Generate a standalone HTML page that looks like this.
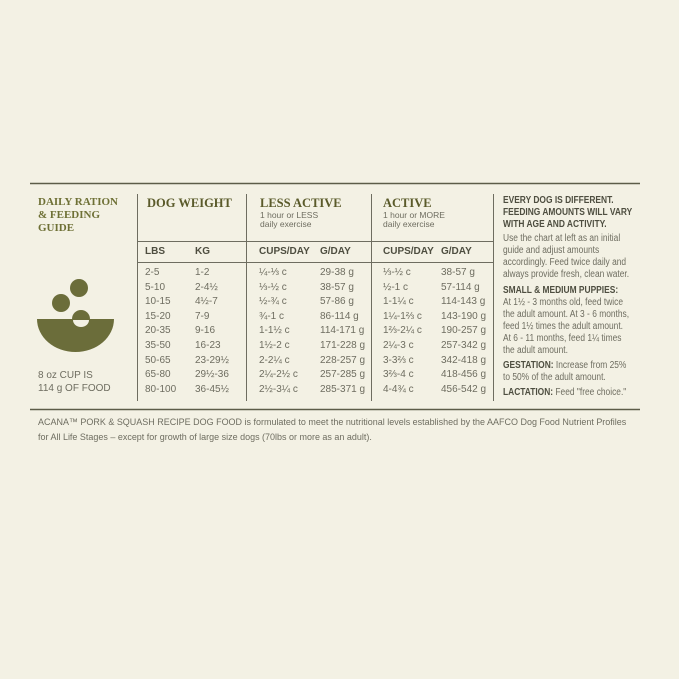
<!DOCTYPE html>
<html><head><meta charset="utf-8"><style>
body{margin:0;background:#f3f1e4;width:679px;height:679px;position:relative;overflow:hidden;font-family:"Liberation Sans",sans-serif;color:#6e6d60}
.a{position:absolute;white-space:nowrap}
.h{font-family:"Liberation Serif",serif;font-weight:bold;color:#5a5a2a}
.o{color:#6e7035;font-family:"Liberation Serif",serif;font-weight:bold;font-size:11px;line-height:13px}
.b{font-weight:bold;color:#4e4e40}
.s{font-size:8.5px;line-height:9px}
.r{font-size:10px}
.rt{font-size:10px;line-height:12px;transform:scaleX(.84);transform-origin:left top}
</style></head><body>
<svg class="a" style="left:0;top:0" width="679" height="679">
<g stroke="#5c5c48" stroke-width="1.5"><line x1="30" y1="183.5" x2="640" y2="183.5"/><line x1="30" y1="409.5" x2="640" y2="409.5"/></g>
<g stroke="#6e6d60" stroke-width="1"><line x1="137.5" y1="194" x2="137.5" y2="401"/><line x1="246.5" y1="194" x2="246.5" y2="401"/><line x1="371.5" y1="194" x2="371.5" y2="401"/><line x1="493.5" y1="194" x2="493.5" y2="401"/>
<line x1="137" y1="241.5" x2="493" y2="241.5"/><line x1="137" y1="262.5" x2="493" y2="262.5"/></g>
<path d="M37 319 H114 A38.5 33 0 0 1 37 319 Z" fill="#6b6d3a"/>
<circle cx="79" cy="288" r="9" fill="#6b6d3a"/><circle cx="61" cy="303" r="9" fill="#6b6d3a"/>
<path d="M72 319 A9 9 0 0 1 90 319 Z" fill="#6b6d3a"/>
<path d="M73 320 A8 7 0 0 0 89 320 Z" fill="#f3f1e4"/>
</svg>
<div class="a o" style="left:38px;top:196px">DAILY RATION<br>&amp; FEEDING<br>GUIDE</div>
<div class="a h" style="left:147px;top:196px;font-size:12.5px">DOG WEIGHT</div>
<div class="a h" style="left:260px;top:196px;font-size:12.5px">LESS ACTIVE</div>
<div class="a s" style="left:260px;top:211px">1 hour or LESS<br>daily exercise</div>
<div class="a h" style="left:383px;top:196px;font-size:12.5px">ACTIVE</div>
<div class="a s" style="left:383px;top:211px">1 hour or MORE<br>daily exercise</div>
<div class="a b r" style="left:145px;top:246px">LBS</div>
<div class="a b r" style="left:195px;top:246px">KG</div>
<div class="a b r" style="left:259px;top:246px">CUPS/DAY</div>
<div class="a b r" style="left:320px;top:246px">G/DAY</div>
<div class="a b r" style="left:383px;top:246px">CUPS/DAY</div>
<div class="a b r" style="left:441px;top:246px">G/DAY</div>
<div class="a r" style="left:145px;top:266px;line-height:14.6px">2-5<br>5-10<br>10-15<br>15-20<br>20-35<br>35-50<br>50-65<br>65-80<br>80-100</div>
<div class="a r" style="left:195px;top:266px;line-height:14.6px">1-2<br>2-4½<br>4½-7<br>7-9<br>9-16<br>16-23<br>23-29½<br>29½-36<br>36-45½</div>
<div class="a r" style="left:259px;top:266px;line-height:14.6px">¼-⅓ c<br>⅓-½ c<br>½-¾ c<br>¾-1 c<br>1-1½ c<br>1½-2 c<br>2-2¼ c<br>2¼-2½ c<br>2½-3¼ c</div>
<div class="a r" style="left:320px;top:266px;line-height:14.6px">29-38 g<br>38-57 g<br>57-86 g<br>86-114 g<br>114-171 g<br>171-228 g<br>228-257 g<br>257-285 g<br>285-371 g</div>
<div class="a r" style="left:383px;top:266px;line-height:14.6px">⅓-½ c<br>½-1 c<br>1-1¼ c<br>1¼-1⅔ c<br>1⅔-2¼ c<br>2¼-3 c<br>3-3⅔ c<br>3⅔-4 c<br>4-4¾ c</div>
<div class="a r" style="left:441px;top:266px;line-height:14.6px">38-57 g<br>57-114 g<br>114-143 g<br>143-190 g<br>190-257 g<br>257-342 g<br>342-418 g<br>418-456 g<br>456-542 g</div>
<div class="a r" style="left:38px;top:369px;line-height:13px">8 oz CUP IS<br>114 g OF FOOD</div>
<div class="a rt" style="left:503px;top:195px;width:170px">
<div class="b" style="line-height:12px">EVERY DOG IS DIFFERENT.<br>FEEDING AMOUNTS WILL VARY<br>WITH AGE AND ACTIVITY.</div>
<div style="margin-top:2px">Use the chart at left as an initial<br>guide and adjust amounts<br>accordingly. Feed twice daily and<br>always provide fresh, clean water.</div>
<div style="margin-top:4px"><span class="b">SMALL &amp; MEDIUM PUPPIES:</span><br>At 1½ - 3 months old, feed twice<br>the adult amount. At 3 - 6 months,<br>feed 1½ times the adult amount.<br>At 6 - 11 months, feed 1¼ times<br>the adult amount.</div>
<div style="margin-top:3px"><span class="b">GESTATION:</span> Increase from 25%<br>to 50% of the adult amount.</div>
<div style="margin-top:3px"><span class="b">LACTATION:</span> Feed "free choice."</div>
</div>
<div class="a" style="left:38px;top:415px;font-size:9.5px;line-height:15px;transform:scaleX(.945);transform-origin:left top">ACANA™ PORK &amp; SQUASH RECIPE DOG FOOD is formulated to meet the nutritional levels established by the AAFCO Dog Food Nutrient Profiles<br>for All Life Stages – except for growth of large size dogs (70lbs or more as an adult).</div>
</body></html>
